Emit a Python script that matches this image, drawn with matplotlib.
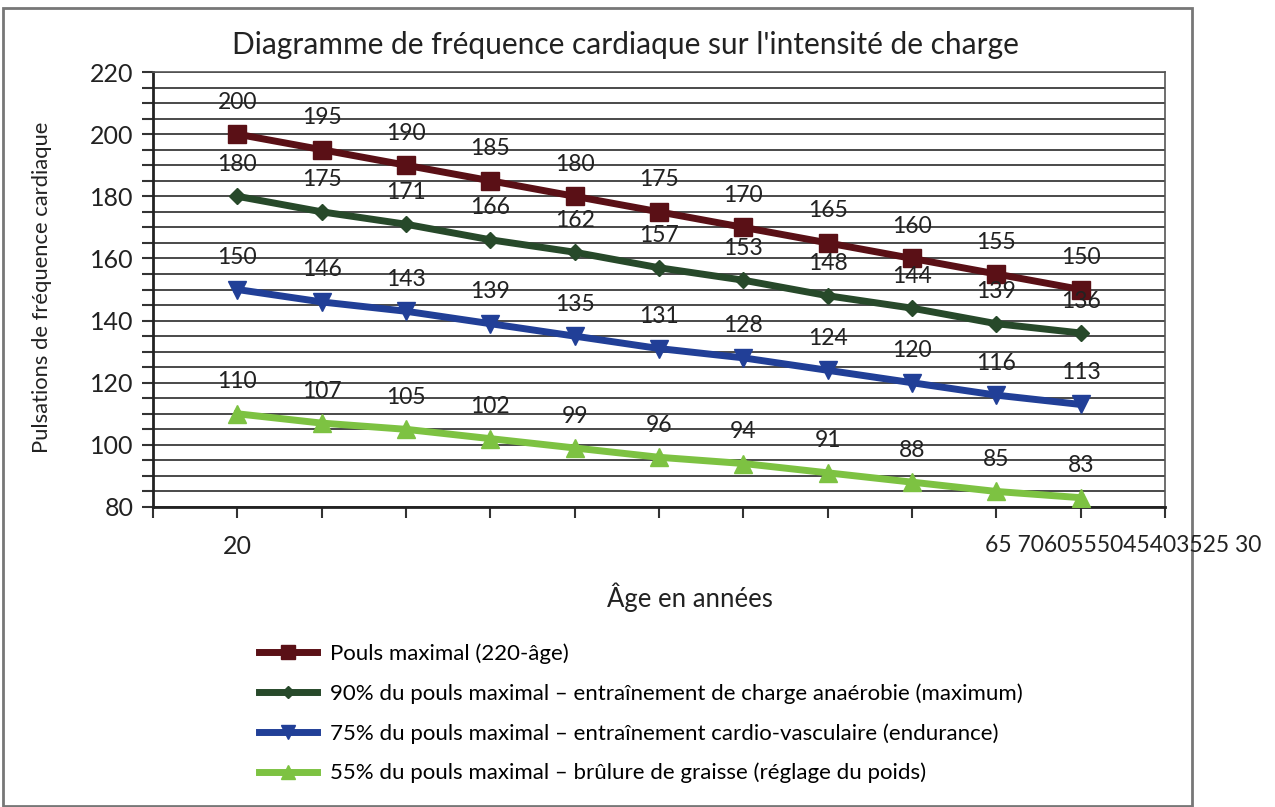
import numpy as np
import matplotlib
matplotlib.use("Agg")
import matplotlib.pyplot as plt
from matplotlib.patches import Rectangle

plt.rcParams['font.family'] = ['Lato', 'DejaVu Sans']

# data
ages = [20, 25, 30, 35, 40, 45, 50, 55, 60, 65, 70]
pouls_max = [200, 195, 190, 185, 180, 175, 170, 165, 160, 155, 150]
pouls_90 = [180, 175, 171, 166, 162, 157, 153, 148, 144, 139, 136]
pouls_75 = [150, 146, 143, 139, 135, 131, 128, 124, 120, 116, 113]
pouls_55 = [110, 107, 105, 102, 99, 96, 94, 91, 88, 85, 83]
series_labels = [
    "Pouls maximal (220-âge)",
    "90% du pouls maximal – entraînement de charge anaérobie (maximum)",
    "75% du pouls maximal – entraînement cardio-vasculaire (endurance)",
    "55% du pouls maximal – brûlure de graisse (réglage du poids)",
]
first_tick_label = "20"
jumbled_ticks = "65 7060555045403525 30"

colors = ["#5a1016", "#27492a", "#213f97", "#7dc242"]
markers = ["s", "D", "v", "^"]
msizes = [13, 8, 13, 13]

fig = plt.figure(figsize=(12.75, 8.07), dpi=100)
ax = fig.add_axes([153/1275, 1-507/807, (1165-153)/1275, (507-72)/807])

x = np.arange(len(ages))
all_series = [pouls_max, pouls_90, pouls_75, pouls_55]
for vals, c, m, ms, lab in zip(all_series, colors, markers, msizes, series_labels):
    ax.plot(x, vals, color=c, lw=5, marker=m, markersize=ms, label=lab, zorder=3)
    for xi, v in zip(x, vals):
        ax.annotate(str(v), (xi, v), xytext=(0, 23), textcoords='offset points',
                    ha='center', va='center', fontsize=16.5, color='#222222', zorder=4)

ax.set_xlim(-1, len(ages))
ax.set_ylim(80, 220)
ax.set_xticks(np.arange(-1, len(ages) + 1))
ax.set_xticklabels([""] + [first_tick_label] + [""] * len(ages))
yt = np.arange(80, 225, 5)
ax.set_yticks(yt)
ax.set_yticklabels([str(v) if v % 20 == 0 else "" for v in yt])
ax.tick_params(axis='both', length=8, width=1.5, color='#333333', labelsize=18, labelcolor='#222222')
ax.tick_params(axis='x', pad=12)
ax.tick_params(axis='y', pad=6)
ax.grid(axis='y', color='#3a3a3a', lw=1.3)
ax.set_axisbelow(True)
for s in ['top', 'right']:
    ax.spines[s].set_color('#555555')
    ax.spines[s].set_linewidth(1.2)
ax.spines['left'].set_linewidth(2)
ax.spines['bottom'].set_linewidth(2)
ax.spines['left'].set_color('#222222')
ax.spines['bottom'].set_color('#222222')

fig.text(985/1275, 1-545/807, jumbled_ticks, ha='left', va='center', fontsize=16.5, color='#222222')

fig.text(625/1275, 1-45/807, "Diagramme de fréquence cardiaque sur l'intensité de charge",
         ha='center', va='center', fontsize=21.5, color='#222222')
fig.text(690/1275, 1-597/807, "Âge en années", ha='center', va='center', fontsize=18.5, color='#222222')
fig.text(42/1275, 1-287/807, "Pulsations de fréquence cardiaque", ha='center', va='center',
         rotation=90, fontsize=15.8, color='#222222')

leg = ax.legend(loc='upper left', bbox_to_anchor=(248/1275, 1-632/807), bbox_transform=fig.transFigure,
                frameon=False, fontsize=16, handlelength=2.6, handletextpad=0.6,
                labelspacing=0.87, markerscale=0.8, borderpad=0)

fig.patches.append(Rectangle((3/1275, 1/807), (1192-3)/1275, (806-8)/807,
                             transform=fig.transFigure, fill=False, ec='#777777', lw=2))

fig.savefig("out.png", dpi=100)
